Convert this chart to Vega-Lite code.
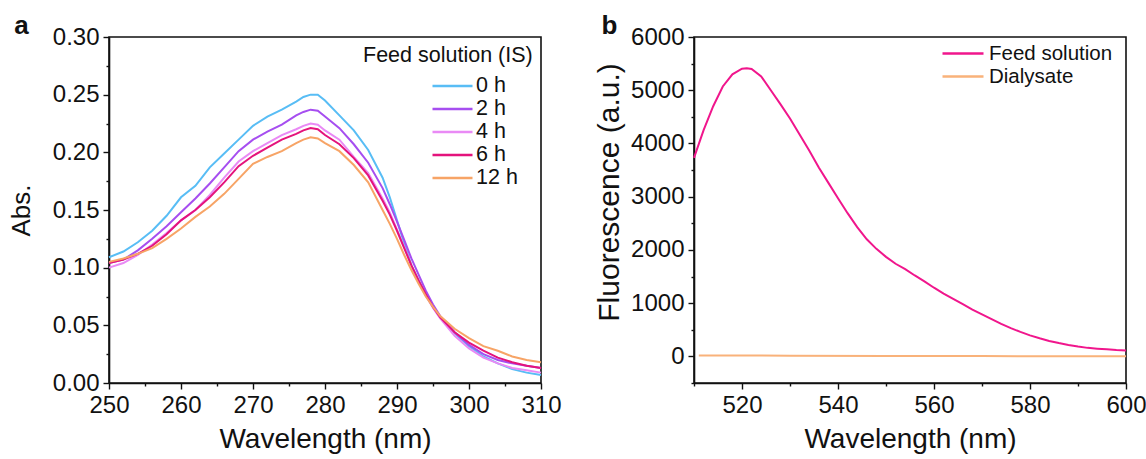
{
  "$schema": "https://vega.github.io/schema/vega-lite/v6.json",
  "padding": {"left": 7, "top": 12, "right": 2, "bottom": 2},
  "spacing": 31,
  "resolve": {"scale": {"color": "independent"}, "legend": {"color": "independent"}},
  "config": {
    "font": "Liberation Sans",
    "view": {"stroke": "#111", "strokeWidth": 1.6},
    "axis": {"grid": false, "domainColor": "#111", "domainWidth": 1.6, "tickColor": "#111", "tickWidth": 1.4, "labelColor": "#111", "titleColor": "#111", "labelFont": "Liberation Sans", "titleFont": "Liberation Sans", "titleFontWeight": "normal", "labelFontSize": 24, "titleFontSize": 28, "labelFlush": false},
    "legend": {"labelFont": "Liberation Sans", "titleFont": "Liberation Sans", "labelColor": "#111", "titleColor": "#111"}
  },
  "datasets": {
    "abs": [
      {"wl":250,"abs":0.109,"series":"0 h"},{"wl":252,"abs":0.114,"series":"0 h"},{"wl":254,"abs":0.122,"series":"0 h"},{"wl":256,"abs":0.132,"series":"0 h"},{"wl":258,"abs":0.145,"series":"0 h"},{"wl":260,"abs":0.161,"series":"0 h"},{"wl":262,"abs":0.171,"series":"0 h"},{"wl":264,"abs":0.187,"series":"0 h"},{"wl":266,"abs":0.199,"series":"0 h"},{"wl":268,"abs":0.211,"series":"0 h"},{"wl":270,"abs":0.223,"series":"0 h"},{"wl":272,"abs":0.231,"series":"0 h"},{"wl":274,"abs":0.237,"series":"0 h"},{"wl":276,"abs":0.244,"series":"0 h"},{"wl":277,"abs":0.248,"series":"0 h"},{"wl":278,"abs":0.250,"series":"0 h"},{"wl":279,"abs":0.250,"series":"0 h"},{"wl":280,"abs":0.245,"series":"0 h"},{"wl":282,"abs":0.232,"series":"0 h"},{"wl":284,"abs":0.219,"series":"0 h"},{"wl":286,"abs":0.202,"series":"0 h"},{"wl":288,"abs":0.178,"series":"0 h"},{"wl":289,"abs":0.161,"series":"0 h"},{"wl":290,"abs":0.141,"series":"0 h"},{"wl":291,"abs":0.121,"series":"0 h"},{"wl":292,"abs":0.102,"series":"0 h"},{"wl":293,"abs":0.089,"series":"0 h"},{"wl":294,"abs":0.076,"series":"0 h"},{"wl":295,"abs":0.066,"series":"0 h"},{"wl":296,"abs":0.057,"series":"0 h"},{"wl":298,"abs":0.043,"series":"0 h"},{"wl":300,"abs":0.032,"series":"0 h"},{"wl":302,"abs":0.023,"series":"0 h"},{"wl":304,"abs":0.017,"series":"0 h"},{"wl":306,"abs":0.012,"series":"0 h"},{"wl":308,"abs":0.009,"series":"0 h"},{"wl":310,"abs":0.007,"series":"0 h"},
      {"wl":250,"abs":0.104,"series":"2 h"},{"wl":252,"abs":0.107,"series":"2 h"},{"wl":254,"abs":0.115,"series":"2 h"},{"wl":256,"abs":0.125,"series":"2 h"},{"wl":258,"abs":0.136,"series":"2 h"},{"wl":260,"abs":0.148,"series":"2 h"},{"wl":262,"abs":0.160,"series":"2 h"},{"wl":264,"abs":0.173,"series":"2 h"},{"wl":266,"abs":0.187,"series":"2 h"},{"wl":268,"abs":0.201,"series":"2 h"},{"wl":270,"abs":0.211,"series":"2 h"},{"wl":272,"abs":0.218,"series":"2 h"},{"wl":274,"abs":0.224,"series":"2 h"},{"wl":276,"abs":0.232,"series":"2 h"},{"wl":277,"abs":0.235,"series":"2 h"},{"wl":278,"abs":0.237,"series":"2 h"},{"wl":279,"abs":0.236,"series":"2 h"},{"wl":280,"abs":0.231,"series":"2 h"},{"wl":282,"abs":0.221,"series":"2 h"},{"wl":284,"abs":0.207,"series":"2 h"},{"wl":286,"abs":0.191,"series":"2 h"},{"wl":288,"abs":0.169,"series":"2 h"},{"wl":289,"abs":0.155,"series":"2 h"},{"wl":290,"abs":0.140,"series":"2 h"},{"wl":291,"abs":0.124,"series":"2 h"},{"wl":292,"abs":0.108,"series":"2 h"},{"wl":293,"abs":0.094,"series":"2 h"},{"wl":294,"abs":0.080,"series":"2 h"},{"wl":295,"abs":0.068,"series":"2 h"},{"wl":296,"abs":0.058,"series":"2 h"},{"wl":298,"abs":0.044,"series":"2 h"},{"wl":300,"abs":0.033,"series":"2 h"},{"wl":302,"abs":0.025,"series":"2 h"},{"wl":304,"abs":0.020,"series":"2 h"},{"wl":306,"abs":0.017,"series":"2 h"},{"wl":308,"abs":0.015,"series":"2 h"},{"wl":310,"abs":0.013,"series":"2 h"},
      {"wl":250,"abs":0.100,"series":"4 h"},{"wl":252,"abs":0.104,"series":"4 h"},{"wl":254,"abs":0.111,"series":"4 h"},{"wl":256,"abs":0.120,"series":"4 h"},{"wl":258,"abs":0.130,"series":"4 h"},{"wl":260,"abs":0.141,"series":"4 h"},{"wl":262,"abs":0.150,"series":"4 h"},{"wl":264,"abs":0.163,"series":"4 h"},{"wl":266,"abs":0.178,"series":"4 h"},{"wl":268,"abs":0.192,"series":"4 h"},{"wl":270,"abs":0.201,"series":"4 h"},{"wl":272,"abs":0.208,"series":"4 h"},{"wl":274,"abs":0.215,"series":"4 h"},{"wl":276,"abs":0.220,"series":"4 h"},{"wl":277,"abs":0.223,"series":"4 h"},{"wl":278,"abs":0.225,"series":"4 h"},{"wl":279,"abs":0.224,"series":"4 h"},{"wl":280,"abs":0.219,"series":"4 h"},{"wl":282,"abs":0.211,"series":"4 h"},{"wl":284,"abs":0.196,"series":"4 h"},{"wl":286,"abs":0.182,"series":"4 h"},{"wl":288,"abs":0.160,"series":"4 h"},{"wl":289,"abs":0.148,"series":"4 h"},{"wl":290,"abs":0.133,"series":"4 h"},{"wl":291,"abs":0.118,"series":"4 h"},{"wl":292,"abs":0.102,"series":"4 h"},{"wl":293,"abs":0.088,"series":"4 h"},{"wl":294,"abs":0.076,"series":"4 h"},{"wl":295,"abs":0.065,"series":"4 h"},{"wl":296,"abs":0.056,"series":"4 h"},{"wl":298,"abs":0.041,"series":"4 h"},{"wl":300,"abs":0.030,"series":"4 h"},{"wl":302,"abs":0.022,"series":"4 h"},{"wl":304,"abs":0.017,"series":"4 h"},{"wl":306,"abs":0.013,"series":"4 h"},{"wl":308,"abs":0.011,"series":"4 h"},{"wl":310,"abs":0.009,"series":"4 h"},
      {"wl":250,"abs":0.104,"series":"6 h"},{"wl":252,"abs":0.107,"series":"6 h"},{"wl":254,"abs":0.112,"series":"6 h"},{"wl":256,"abs":0.119,"series":"6 h"},{"wl":258,"abs":0.129,"series":"6 h"},{"wl":260,"abs":0.141,"series":"6 h"},{"wl":262,"abs":0.150,"series":"6 h"},{"wl":264,"abs":0.161,"series":"6 h"},{"wl":266,"abs":0.174,"series":"6 h"},{"wl":268,"abs":0.188,"series":"6 h"},{"wl":270,"abs":0.197,"series":"6 h"},{"wl":272,"abs":0.204,"series":"6 h"},{"wl":274,"abs":0.211,"series":"6 h"},{"wl":276,"abs":0.216,"series":"6 h"},{"wl":277,"abs":0.219,"series":"6 h"},{"wl":278,"abs":0.221,"series":"6 h"},{"wl":279,"abs":0.220,"series":"6 h"},{"wl":280,"abs":0.215,"series":"6 h"},{"wl":282,"abs":0.207,"series":"6 h"},{"wl":284,"abs":0.195,"series":"6 h"},{"wl":286,"abs":0.180,"series":"6 h"},{"wl":288,"abs":0.158,"series":"6 h"},{"wl":289,"abs":0.146,"series":"6 h"},{"wl":290,"abs":0.132,"series":"6 h"},{"wl":291,"abs":0.117,"series":"6 h"},{"wl":292,"abs":0.102,"series":"6 h"},{"wl":293,"abs":0.089,"series":"6 h"},{"wl":294,"abs":0.077,"series":"6 h"},{"wl":295,"abs":0.066,"series":"6 h"},{"wl":296,"abs":0.057,"series":"6 h"},{"wl":298,"abs":0.044,"series":"6 h"},{"wl":300,"abs":0.035,"series":"6 h"},{"wl":302,"abs":0.028,"series":"6 h"},{"wl":304,"abs":0.022,"series":"6 h"},{"wl":306,"abs":0.018,"series":"6 h"},{"wl":308,"abs":0.015,"series":"6 h"},{"wl":310,"abs":0.013,"series":"6 h"},
      {"wl":250,"abs":0.105,"series":"12 h"},{"wl":252,"abs":0.108,"series":"12 h"},{"wl":254,"abs":0.112,"series":"12 h"},{"wl":256,"abs":0.117,"series":"12 h"},{"wl":258,"abs":0.125,"series":"12 h"},{"wl":260,"abs":0.134,"series":"12 h"},{"wl":262,"abs":0.144,"series":"12 h"},{"wl":264,"abs":0.153,"series":"12 h"},{"wl":266,"abs":0.164,"series":"12 h"},{"wl":268,"abs":0.177,"series":"12 h"},{"wl":270,"abs":0.190,"series":"12 h"},{"wl":272,"abs":0.196,"series":"12 h"},{"wl":274,"abs":0.201,"series":"12 h"},{"wl":276,"abs":0.208,"series":"12 h"},{"wl":277,"abs":0.211,"series":"12 h"},{"wl":278,"abs":0.213,"series":"12 h"},{"wl":279,"abs":0.212,"series":"12 h"},{"wl":280,"abs":0.208,"series":"12 h"},{"wl":282,"abs":0.201,"series":"12 h"},{"wl":284,"abs":0.189,"series":"12 h"},{"wl":286,"abs":0.174,"series":"12 h"},{"wl":288,"abs":0.150,"series":"12 h"},{"wl":289,"abs":0.138,"series":"12 h"},{"wl":290,"abs":0.125,"series":"12 h"},{"wl":291,"abs":0.111,"series":"12 h"},{"wl":292,"abs":0.098,"series":"12 h"},{"wl":293,"abs":0.086,"series":"12 h"},{"wl":294,"abs":0.075,"series":"12 h"},{"wl":295,"abs":0.066,"series":"12 h"},{"wl":296,"abs":0.058,"series":"12 h"},{"wl":298,"abs":0.047,"series":"12 h"},{"wl":300,"abs":0.039,"series":"12 h"},{"wl":302,"abs":0.032,"series":"12 h"},{"wl":304,"abs":0.028,"series":"12 h"},{"wl":306,"abs":0.023,"series":"12 h"},{"wl":308,"abs":0.020,"series":"12 h"},{"wl":310,"abs":0.018,"series":"12 h"}
    ],
    "fluo": [
      {"wl":510,"f":3730,"series":"Feed solution"},{"wl":512,"f":4250,"series":"Feed solution"},{"wl":514,"f":4700,"series":"Feed solution"},{"wl":516,"f":5070,"series":"Feed solution"},{"wl":518,"f":5300,"series":"Feed solution"},{"wl":520,"f":5405,"series":"Feed solution"},{"wl":521,"f":5415,"series":"Feed solution"},{"wl":522,"f":5400,"series":"Feed solution"},{"wl":524,"f":5260,"series":"Feed solution"},{"wl":526,"f":5000,"series":"Feed solution"},{"wl":528,"f":4740,"series":"Feed solution"},{"wl":530,"f":4470,"series":"Feed solution"},{"wl":532,"f":4170,"series":"Feed solution"},{"wl":534,"f":3866,"series":"Feed solution"},{"wl":536,"f":3550,"series":"Feed solution"},{"wl":538,"f":3260,"series":"Feed solution"},{"wl":540,"f":2970,"series":"Feed solution"},{"wl":542,"f":2690,"series":"Feed solution"},{"wl":544,"f":2430,"series":"Feed solution"},{"wl":546,"f":2200,"series":"Feed solution"},{"wl":548,"f":2020,"series":"Feed solution"},{"wl":550,"f":1870,"series":"Feed solution"},{"wl":552,"f":1740,"series":"Feed solution"},{"wl":554,"f":1640,"series":"Feed solution"},{"wl":556,"f":1520,"series":"Feed solution"},{"wl":558,"f":1410,"series":"Feed solution"},{"wl":560,"f":1290,"series":"Feed solution"},{"wl":562,"f":1180,"series":"Feed solution"},{"wl":564,"f":1080,"series":"Feed solution"},{"wl":566,"f":980,"series":"Feed solution"},{"wl":568,"f":880,"series":"Feed solution"},{"wl":570,"f":790,"series":"Feed solution"},{"wl":572,"f":700,"series":"Feed solution"},{"wl":574,"f":610,"series":"Feed solution"},{"wl":576,"f":530,"series":"Feed solution"},{"wl":578,"f":460,"series":"Feed solution"},{"wl":580,"f":395,"series":"Feed solution"},{"wl":582,"f":340,"series":"Feed solution"},{"wl":584,"f":290,"series":"Feed solution"},{"wl":586,"f":250,"series":"Feed solution"},{"wl":588,"f":215,"series":"Feed solution"},{"wl":590,"f":185,"series":"Feed solution"},{"wl":592,"f":160,"series":"Feed solution"},{"wl":594,"f":145,"series":"Feed solution"},{"wl":596,"f":132,"series":"Feed solution"},{"wl":598,"f":120,"series":"Feed solution"},{"wl":600,"f":112,"series":"Feed solution"},
      {"wl":511,"f":18,"series":"Dialysate"},{"wl":530,"f":13,"series":"Dialysate"},{"wl":550,"f":9,"series":"Dialysate"},{"wl":570,"f":5,"series":"Dialysate"},{"wl":590,"f":3,"series":"Dialysate"},{"wl":600,"f":2,"series":"Dialysate"}
    ]
  },
  "hconcat": [
    {
      "width": 432,
      "height": 346,
      "data": {"name": "abs"},
      "title": {"text": "a", "anchor": "start", "dx": 6, "offset": -14, "fontSize": 26, "fontWeight": "bold", "font": "Liberation Sans", "color": "#111"},
      "layer": [
        {
          "mark": {"type": "line", "strokeWidth": 2},
          "encoding": {
            "x": {"field": "wl", "type": "quantitative", "scale": {"domain": [250, 310], "nice": false}, "axis": {"orient": "bottom", "values": [250, 260, 270, 280, 290, 300, 310], "title": "Wavelength (nm)", "tickSize": 6, "labelPadding": 4, "titlePadding": 8}},
            "y": {"field": "abs", "type": "quantitative", "scale": {"domain": [0, 0.3], "nice": false, "zero": false}, "axis": {"orient": "left", "values": [0, 0.05, 0.1, 0.15, 0.2, 0.25, 0.3], "format": ".2f", "title": "Abs.", "titleFontSize": 26, "tickSize": 6, "labelPadding": 4, "titlePadding": 18}},
            "color": {"field": "series", "type": "nominal", "scale": {"domain": ["0 h", "2 h", "4 h", "6 h", "12 h"], "range": ["#58bdf5", "#a64ef0", "#e98af5", "#e4137c", "#f7a466"]}, "legend": {"orient": "top-right", "title": "Feed solution (IS)", "titleAnchor": "start", "titleFontSize": 21.5, "titleFontWeight": "normal", "labelFontSize": 21.5, "symbolType": "M-1,0H3", "symbolSize": 400, "symbolStrokeWidth": 2.5, "symbolOffset": 68, "labelOffset": 22, "rowPadding": 1, "offset": 8, "padding": 0, "titlePadding": 8}}
          }
        },
        {
          "mark": {"type": "line", "opacity": 0},
          "encoding": {
            "x": {"field": "wl", "type": "quantitative", "axis": {"orient": "bottom", "values": [255, 265, 275, 285, 295, 305], "labels": false, "title": null, "domain": false, "tickSize": 3}},
            "y": {"field": "abs", "type": "quantitative", "axis": {"orient": "left", "values": [0.025, 0.075, 0.125, 0.175, 0.225, 0.275], "labels": false, "title": null, "domain": false, "tickSize": 3}}
          }
        }
      ],
      "resolve": {"axis": {"x": "independent", "y": "independent"}}
    },
    {
      "width": 432,
      "height": 346,
      "data": {"name": "fluo"},
      "title": {"text": "b", "anchor": "start", "dx": 7, "offset": -14, "fontSize": 26, "fontWeight": "bold", "font": "Liberation Sans", "color": "#111"},
      "layer": [
        {
          "mark": {"type": "line", "strokeWidth": 2},
          "encoding": {
            "x": {"field": "wl", "type": "quantitative", "scale": {"domain": [510, 600], "nice": false}, "axis": {"orient": "bottom", "values": [520, 540, 560, 580, 600], "title": "Wavelength (nm)", "tickSize": 6, "labelPadding": 4, "titlePadding": 8}},
            "y": {"field": "f", "type": "quantitative", "scale": {"domain": [-500, 6000], "nice": false, "zero": false}, "axis": {"orient": "left", "values": [0, 1000, 2000, 3000, 4000, 5000, 6000], "format": "d", "title": "Fluorescence (a.u.)", "titleFontSize": 30, "titleY": 155, "tickSize": 6, "labelPadding": 4, "titlePadding": 6}},
            "color": {"field": "series", "type": "nominal", "scale": {"domain": ["Feed solution", "Dialysate"], "range": ["#f0168c", "#f9b27a"]}, "legend": {"orient": "none", "legendX": 247, "legendY": 5, "title": null, "labelFontSize": 20.5, "symbolType": "M-1,0H3.1", "symbolSize": 400, "symbolStrokeWidth": 2.5, "labelOffset": 25, "rowPadding": 1, "padding": 0}}
          }
        },
        {
          "mark": {"type": "line", "opacity": 0},
          "encoding": {
            "x": {"field": "wl", "type": "quantitative", "axis": {"orient": "bottom", "values": [510, 530, 550, 570, 590], "labels": false, "title": null, "domain": false, "tickSize": 3}},
            "y": {"field": "f", "type": "quantitative", "axis": {"orient": "left", "values": [-500, 500, 1500, 2500, 3500, 4500, 5500], "labels": false, "title": null, "domain": false, "tickSize": 3}}
          }
        }
      ],
      "resolve": {"axis": {"x": "independent", "y": "independent"}}
    }
  ]
}
